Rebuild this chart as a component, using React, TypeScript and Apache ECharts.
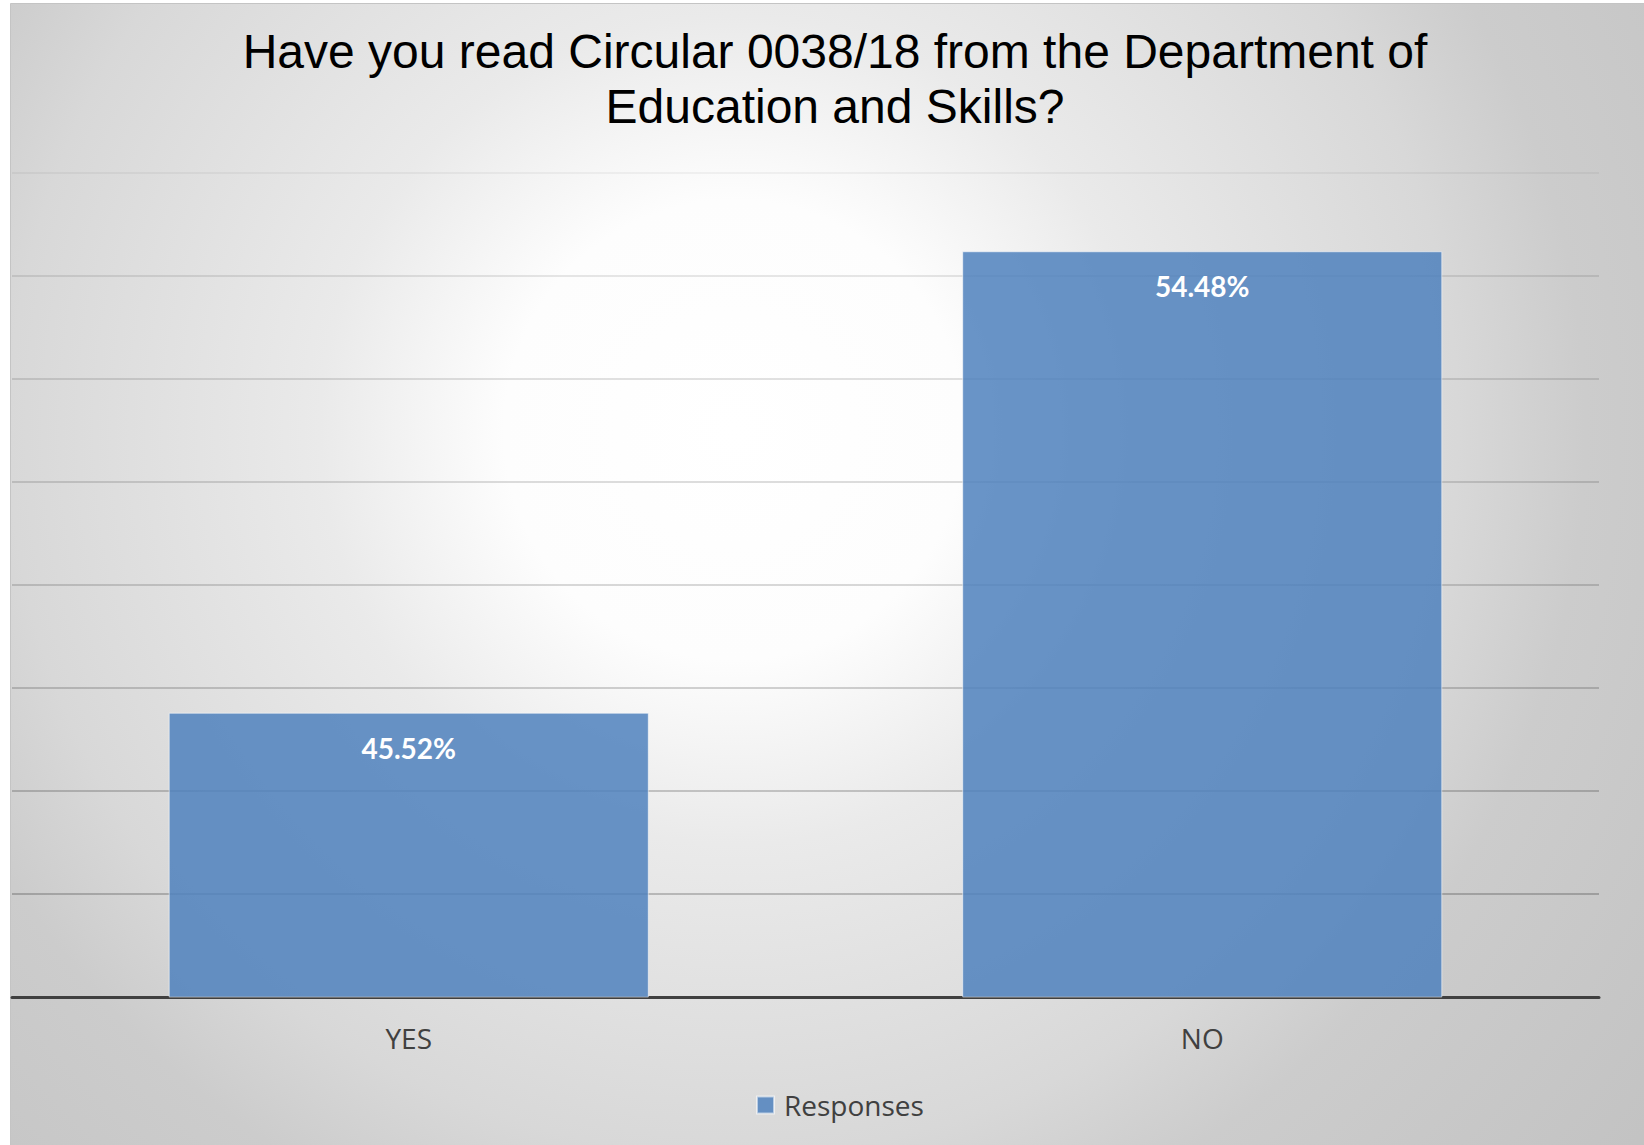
import React, { useEffect, useRef } from "react";
import * as echarts from "echarts";

const titleText = "Have you read Circular 0038/18 from the Department of\nEducation and Skills?";
const categories = ["YES", "NO"];
const responses = [45.52, 54.48];
const seriesName = "Responses";
const yMin = 40;
const yMax = 56;
const yInterval = 2;

export default function App() {
  const ref = useRef<HTMLDivElement>(null);
  useEffect(() => {
    if (!ref.current) return;
    const chart = echarts.init(ref.current, null, { renderer: "svg" });
    const option: any = {
      animation: false,
      backgroundColor: "#ffffff",
      graphic: {
        elements: [
          {
            type: "rect",
            z: -100,
            silent: true,
            shape: { x: 10.5, y: 3.5, width: 1640, height: 1150 },
            style: {
              fill: {
                type: "radial",
                x: 734,
                y: 430,
                r: 1150,
                global: true,
                colorStops: [
                  { offset: 0, color: "#ffffff" },
                  { offset: 0.2, color: "#fdfdfd" },
                  { offset: 0.36, color: "#eaeaea" },
                  { offset: 0.63, color: "#d8d8d8" },
                  { offset: 0.74, color: "#cccccc" },
                  { offset: 1, color: "#c3c3c3" },
                ],
              },
              stroke: "#c4c4c4",
              lineWidth: 1,
            },
          },
        ],
      },
      title: {
        text: titleText,
        left: 835,
        top: 24,
        padding: 0,
        textAlign: "center",
        textStyle: {
          fontFamily: "Liberation Sans",
          fontSize: 48,
          fontWeight: "normal",
          color: "#000000",
          lineHeight: 55,
        },
      },
      legend: {
        data: [seriesName],
        left: 756,
        top: 1091,
        padding: 0,
        icon: "rect",
        itemWidth: 17,
        itemHeight: 17,
        textStyle: {
          fontFamily: "Open Sans",
          fontSize: 28,
          color: "#404040",
          padding: [0, 0, 0, 5],
        },
      },
      grid: { left: 12, right: 45, top: 173, bottom: 148, containLabel: false },
      xAxis: {
        type: "category",
        data: categories,
        axisLine: { show: true, lineStyle: { color: "#404040", width: 3 } },
        axisTick: { show: false },
        axisLabel: {
          fontFamily: "Open Sans",
          fontSize: 28,
          color: "#404040",
          margin: 27,
        },
      },
      yAxis: {
        type: "value",
        min: yMin,
        max: yMax,
        interval: yInterval,
        axisLine: { show: false },
        axisTick: { show: false },
        axisLabel: { show: false },
        splitLine: {
          show: true,
          lineStyle: {
            width: 1.5,
            color: [
              "rgba(0,0,0,0.3)",
              "rgba(0,0,0,0.28)",
              "rgba(0,0,0,0.26)",
              "rgba(0,0,0,0.23)",
              "rgba(0,0,0,0.2)",
              "rgba(0,0,0,0.18)",
              "rgba(0,0,0,0.16)",
              "rgba(0,0,0,0.13)",
              "rgba(0,0,0,0.06)",
            ],
          },
        },
      },
      series: [
        {
          name: seriesName,
          type: "bar",
          data: responses,
          barWidth: "60.5%",
          itemStyle: {
            color: "rgba(79,129,189,0.85)",
            borderColor: "rgba(255,255,255,0.55)",
            borderWidth: 1,
          },
          label: {
            show: true,
            position: "insideTop",
            distance: 21,
            formatter: (p: any) => p.value.toFixed(2) + "%",
            fontFamily: "Lato",
            fontWeight: "bold",
            fontSize: 28,
            color: "#ffffff",
          },
        },
      ],
    };
    chart.setOption(option);
    return () => chart.dispose();
  }, []);
  return (
    <div
      ref={ref}
      style={{ position: "absolute", left: 0, top: 0, width: 1644, height: 1145 }}
    />
  );
}
